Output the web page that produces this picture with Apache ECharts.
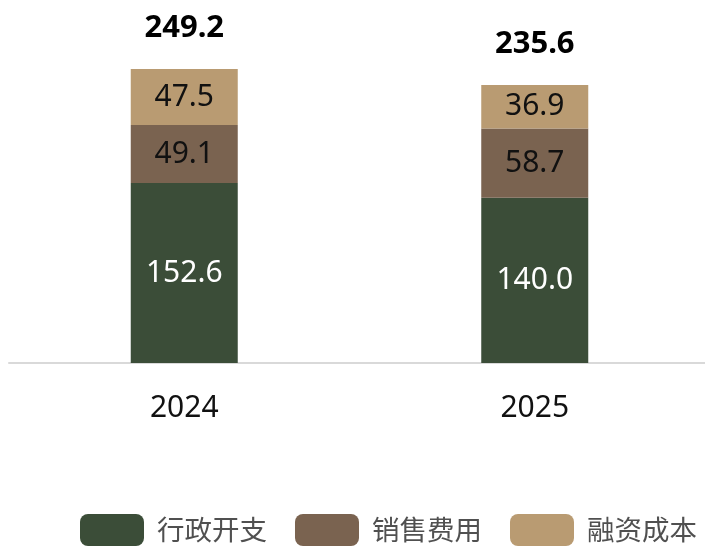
<!DOCTYPE html>
<html><head><meta charset="utf-8">
<script src="https://cdn.jsdelivr.net/npm/echarts@6/dist/echarts.min.js"></script>
<style>html,body{margin:0;padding:0;background:#fff;overflow:hidden}#c{width:716px;height:547px}</style>
</head><body><div id="c"></div>
<script>
const categories = ['2024', '2025'];
const seriesNames = ['行政开支', '销售费用', '融资成本'];
const admin = [152.6, 140.0];
const selling = [49.1, 58.7];
const finance = [47.5, 36.9];
const totals = [249.2, 235.6];
const colors = ['#3b4d38', '#7a6350', '#b99b72'];
const labelColors = ['#ffffff', '#111111', '#111111'];

const font = "'Noto Sans', sans-serif";
const vals = [admin, selling, finance];
const series = vals.map((d, i) => ({
  name: seriesNames[i], type: 'bar', stack: 'a', barWidth: 107,
  data: d, itemStyle: { color: colors[i] },
  label: { show: true, position: 'inside', color: labelColors[i], fontSize: 30, fontFamily: font,
    formatter: p => p.value.toFixed(1) }
}));
series.push({
  name: 'total', type: 'bar', stack: 'a', barWidth: 107,
  data: totals.map(() => 0), itemStyle: { color: 'transparent' },
  label: { show: true, position: 'top', distance: 25, color: '#000', fontSize: 31, fontWeight: 'bold', fontFamily: font,
    formatter: p => totals[p.dataIndex].toFixed(1) }
});
const chart = echarts.init(document.getElementById('c'));
chart.setOption({
  animation: false,
  grid: { left: 9, width: 701, top: 9, bottom: 184, containLabel: false },
  xAxis: { type: 'category', data: categories,
    axisLine: { lineStyle: { color: '#d9d9d9', width: 2 } }, axisTick: { show: false },
    axisLabel: { color: '#111', fontSize: 30, fontFamily: font, margin: 30 } },
  yAxis: { type: 'value', min: 0, max: 300, show: false },
  legend: { data: seriesNames, left: 75, top: 509, icon: 'roundRect', itemWidth: 64, itemHeight: 32, itemGap: 28,
    textStyle: { color: '#505050', fontSize: 27.5, fontFamily: "'Noto Sans CJK SC', sans-serif", padding: [0, 0, 0, 8] } },
  series
});
</script></body></html>
